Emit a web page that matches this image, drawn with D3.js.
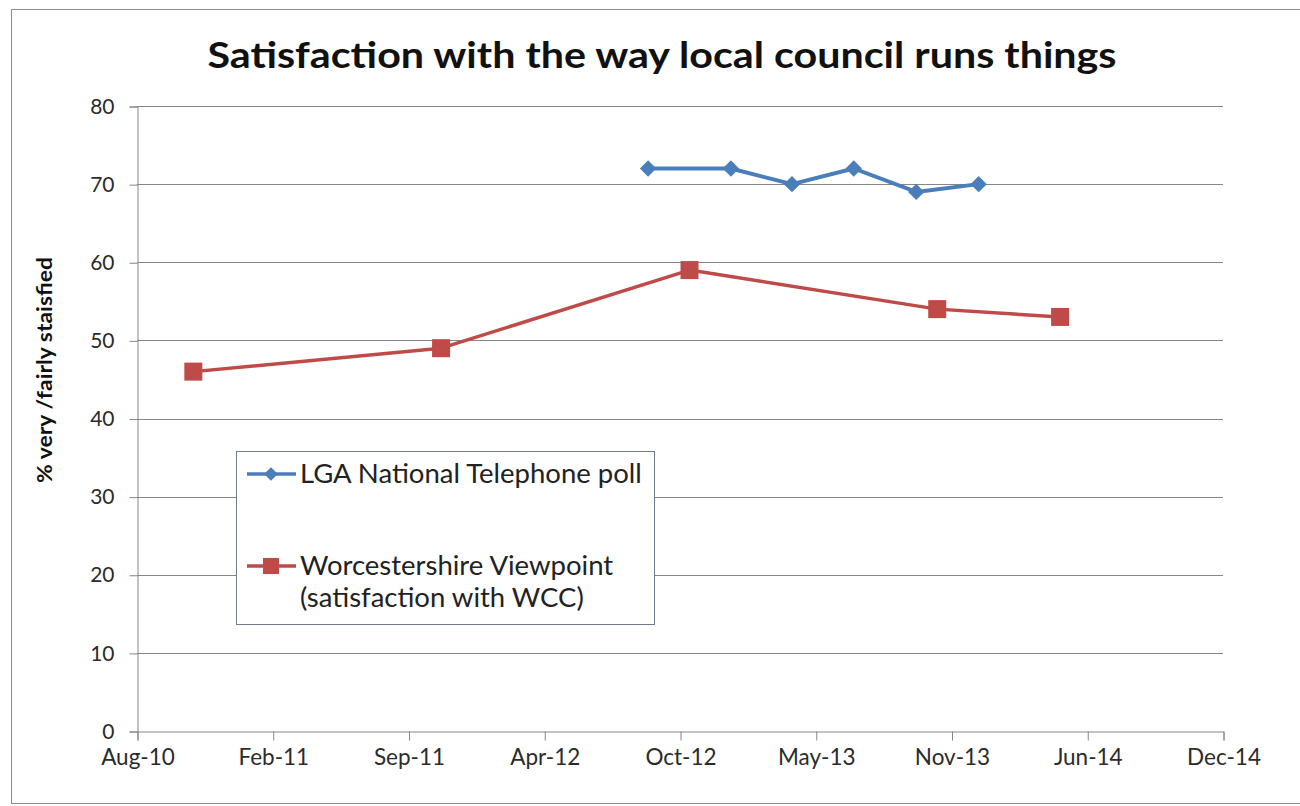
<!DOCTYPE html>
<html>
<head>
<meta charset="utf-8">
<script src="https://cdn.jsdelivr.net/npm/d3@7"></script>
<style>
  html, body { margin: 0; padding: 0; background: #fff; }
  svg { display: block; font-family: Lato, "Open Sans", sans-serif; }
</style>
</head>
<body>
<svg id="chart" width="1300" height="806"></svg>
<script>
// Survey dates and satisfaction percentages
const lgaDates = ["2012-09-01", "2013-01-01", "2013-04-01", "2013-07-01", "2013-10-01", "2014-01-01"];
const lgaValues = [72, 72, 70, 72, 69, 70];

const worcsDates = ["2010-11-01", "2011-11-01", "2012-11-01", "2013-11-01", "2014-05-01"];
const worcsValues = [46, 49, 59, 54, 53];

// Date axis: 200-day steps from 10 Aug 2010
const xTickDates = ["2010-08-10", "2011-02-26", "2011-09-14", "2012-04-01", "2012-10-18",
                    "2013-05-06", "2013-11-22", "2014-06-10", "2014-12-27"];
const yTicks = [0, 10, 20, 30, 40, 50, 60, 70, 80];

const titleText = "Satisfaction with the way local council runs things";
const yLabel = "% very /fairly staisfied";
const legendLga = ["LGA National Telephone poll"];
const legendWorcs = ["Worcestershire Viewpoint", "(satisfaction with WCC)"];

const parse = d3.utcParse("%Y-%m-%d");
const blue = "#4a7ebb";
const red = "#be4b48";
const gridColor = "#868686";
const labelColor = "#2b2b2b";

const svg = d3.select("#chart");

// outer chart frame (runs off the right edge)
svg.append("rect")
  .attr("x", 11.5).attr("y", 9.5).attr("width", 1300).attr("height", 794)
  .attr("fill", "#fff").attr("stroke", "#8c8c8c").attr("stroke-width", 1);

const plot = { left: 137, right: 1223, top: 106, bottom: 731 };

const x = d3.scaleUtc()
  .domain([parse(xTickDates[0]), parse(xTickDates[xTickDates.length - 1])])
  .range([plot.left, plot.right]);
const y = d3.scaleLinear().domain([0, 80]).range([plot.bottom, plot.top]);

// horizontal gridlines
svg.append("g")
  .selectAll("line")
  .data(yTicks.filter(d => d > 0))
  .join("line")
  .attr("x1", plot.left).attr("x2", plot.right)
  .attr("y1", d => Math.round(y(d)) + 0.5).attr("y2", d => Math.round(y(d)) + 0.5)
  .attr("stroke", gridColor).attr("stroke-width", 1);

// y axis
const yAxis = svg.append("g")
  .attr("transform", `translate(${plot.left + 0.5},0.5)`)
  .call(d3.axisLeft(y).tickValues(yTicks).tickSize(8).tickPadding(15).tickFormat(d3.format("d")));
yAxis.select(".domain").attr("stroke", gridColor);
yAxis.selectAll(".tick line").attr("stroke", gridColor);
yAxis.selectAll(".tick text")
  .attr("font-family", "Lato, sans-serif").attr("font-size", 21).attr("fill", labelColor);

// x axis
const xAxis = svg.append("g")
  .attr("transform", `translate(0.5,${plot.bottom + 0.5})`)
  .call(d3.axisBottom(x).tickValues(xTickDates.map(parse)).tickSize(9).tickPadding(9)
        .tickFormat(d3.utcFormat("%b-%y")));
xAxis.select(".domain").attr("stroke", gridColor);
xAxis.selectAll(".tick line").attr("stroke", gridColor);
xAxis.selectAll(".tick text")
  .attr("font-family", "Lato, sans-serif").attr("font-size", 22.5).attr("fill", labelColor);

// title
svg.append("text")
  .attr("x", 662).attr("y", 68)
  .attr("text-anchor", "middle")
  .attr("font-family", "Lato, sans-serif").attr("font-weight", 700).attr("font-size", 36)
  .attr("fill", "#111")
  .attr("textLength", 909).attr("lengthAdjust", "spacingAndGlyphs")
  .text(titleText);

// y axis title
svg.append("text")
  .attr("transform", "translate(52,370) rotate(-90)")
  .attr("text-anchor", "middle")
  .attr("font-family", "Lato, sans-serif").attr("font-weight", 700).attr("font-size", 20)
  .attr("fill", "#111")
  .attr("textLength", 226).attr("lengthAdjust", "spacingAndGlyphs")
  .text(yLabel);

const line = d3.line().x(d => x(d.date)).y(d => y(d.value));

const lga = lgaDates.map((d, i) => ({ date: parse(d), value: lgaValues[i] }));
const worcs = worcsDates.map((d, i) => ({ date: parse(d), value: worcsValues[i] }));

// Worcestershire Viewpoint series
svg.append("path").datum(worcs)
  .attr("d", line).attr("fill", "none")
  .attr("stroke", red).attr("stroke-width", 3.5).attr("stroke-linejoin", "round");
svg.append("g").selectAll("rect").data(worcs).join("rect")
  .attr("x", d => x(d.date) - 9).attr("y", d => y(d.value) - 9)
  .attr("width", 18).attr("height", 18)
  .attr("fill", red);

// LGA poll series
svg.append("path").datum(lga)
  .attr("d", line).attr("fill", "none")
  .attr("stroke", blue).attr("stroke-width", 4).attr("stroke-linejoin", "round");
const diamond = d3.symbol().type(d3.symbolDiamond2).size(170);
svg.append("g").selectAll("path").data(lga).join("path")
  .attr("transform", d => `translate(${x(d.date)},${y(d.value)})`)
  .attr("d", diamond)
  .attr("fill", blue);

// legend
const lg = svg.append("g");
lg.append("rect")
  .attr("x", 236.5).attr("y", 451.5).attr("width", 418).attr("height", 173)
  .attr("fill", "#fff").attr("stroke", "#6f7e8c").attr("stroke-width", 1);

const entries = [
  { color: blue, symbol: "diamond", lines: legendLga, ly: 474 },
  { color: red, symbol: "square", lines: legendWorcs, ly: 566 }
];
entries.forEach(e => {
  lg.append("line")
    .attr("x1", 247).attr("x2", 296).attr("y1", e.ly).attr("y2", e.ly)
    .attr("stroke", e.color).attr("stroke-width", 3.5);
  if (e.symbol === "diamond") {
    lg.append("path")
      .attr("transform", `translate(271,${e.ly})`)
      .attr("d", d3.symbol().type(d3.symbolDiamond2).size(120))
      .attr("fill", e.color);
  } else {
    lg.append("rect")
      .attr("x", 263).attr("y", e.ly - 8).attr("width", 16).attr("height", 16)
      .attr("fill", e.color);
  }
  e.lines.forEach((t, i) => {
    lg.append("text")
      .attr("x", 300).attr("y", e.ly + 9 + i * 32)
      .attr("font-family", "Lato, sans-serif").attr("font-size", 27.5)
      .attr("fill", "#222")
      .text(t);
  });
});
</script>
</body>
</html>
